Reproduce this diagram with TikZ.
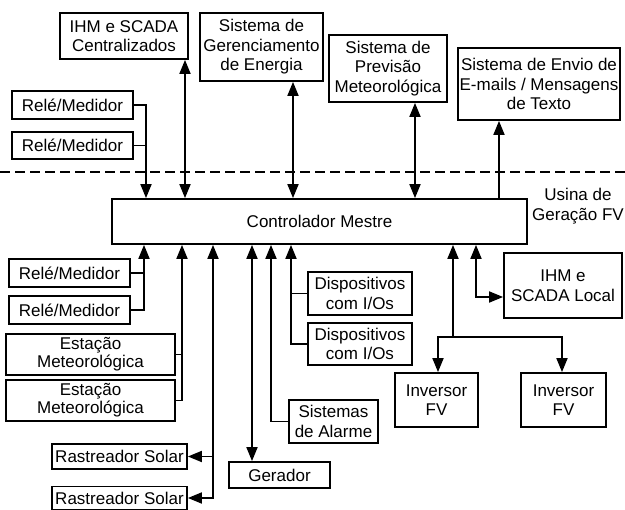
\documentclass[tikz,border=0pt]{standalone}
\usepackage{fontspec}
\setmainfont{Liberation Sans}
\usetikzlibrary{arrows.meta}
\begin{document}
\begin{tikzpicture}[x=1pt,y=-1pt,line width=1.8pt,
  >={Triangle[length=14pt,width=11pt]},
  box/.style={draw,inner sep=0pt,align=center,font=\fontsize{17}{19.5}\selectfont},
  lbl/.style={inner sep=0pt,align=center,font=\fontsize{17}{19.5}\selectfont}]
\useasboundingbox (0,0) rectangle (625,510);
% top boxes
\node[box,minimum width=128pt,minimum height=46pt] (ihmC) at (124,36) {IHM e SCADA\\Centralizados};
\node[box,minimum width=123pt,minimum height=68pt] (sge) at (261.5,47) {Sistema de\\Gerenciamento\\de Energia};
\node[box,minimum width=118pt,minimum height=67pt] (prev) at (388,68.5) {Sistema de\\Previsão\\Meteorológica};
\node[box,minimum width=162pt,minimum height=72pt] (envio) at (539,84) {Sistema de Envio de\\E-mails / Mensagens\\de Texto};
\node[box,minimum width=121pt,minimum height=28pt] (rt1) at (72.5,105) {Relé/Medidor};
\node[box,minimum width=121pt,minimum height=27pt] (rt2) at (72.5,145.5) {Relé/Medidor};
% controller
\node[box,minimum width=415pt,minimum height=45pt] (ctrl) at (319.5,221.5) {Controlador Mestre};
\node[lbl] (usina) at (578,206) {Usina de\\Geração FV};
% bottom boxes
\node[box,minimum width=121pt,minimum height=28pt] (rb1) at (69.5,273) {Relé/Medidor};
\node[box,minimum width=121pt,minimum height=28pt] (rb2) at (69.5,310) {Relé/Medidor};
\node[box,minimum width=169pt,minimum height=41pt,font=\fontsize{17}{18}\selectfont] (est1) at (90.5,354.5) {Estação\\Meteorológica};
\node[box,minimum width=169pt,minimum height=41pt,font=\fontsize{17}{18}\selectfont] (est2) at (90.5,400.5) {Estação\\Meteorológica};
\node[box,minimum width=135pt,minimum height=25pt] (rast1) at (119.5,456.5) {Rastreador Solar};
\node[box,minimum width=135pt,minimum height=23pt] (rast2) at (119.5,498) {Rastreador Solar};
\node[box,minimum width=101pt,minimum height=26pt] (ger) at (279.5,475) {Gerador};
\node[box,minimum width=89pt,minimum height=43pt] (alarm) at (333.5,421.5) {Sistemas\\de Alarme};
\node[box,minimum width=104pt,minimum height=43pt] (disp1) at (360,293.5) {Dispositivos\\com I/Os};
\node[box,minimum width=104pt,minimum height=42pt] (disp2) at (360,344) {Dispositivos\\com I/Os};
\node[box,minimum width=83pt,minimum height=54pt] (inv1) at (436.5,400) {Inversor\\FV};
\node[box,minimum width=85pt,minimum height=54pt] (inv2) at (563.5,400) {Inversor\\FV};
\node[box,minimum width=118pt,minimum height=65pt] (ihmL) at (563,285.5) {IHM e\\SCADA Local};
% coordinates
\coordinate (c146) at (146,0);
\coordinate (c185) at (185,0);
\coordinate (c293) at (293,0);
\coordinate (c415) at (415,0);
\coordinate (c499) at (499,0);
\coordinate (c144) at (144,0);
\coordinate (c182) at (182,0);
\coordinate (c213) at (213,0);
\coordinate (c252) at (252,0);
\coordinate (c271) at (271,0);
\coordinate (c291) at (291,0);
\coordinate (c453) at (453,0);
\coordinate (c438) at (438,0);
\coordinate (c562) at (562,0);
\coordinate (c476) at (476,0);
\coordinate (r337) at (0,337);
\coordinate (r297) at (0,297);
\coordinate (dL) at (0,172);
\coordinate (dR) at (625,172);
% dashed boundary
\draw[dash pattern=on 10pt off 5pt] (dL) -- (dR);
% top connectors
\draw[->] (rt1.east) -| (c146 |- ctrl.north);
\draw (rt2.east) -- (c146 |- rt2.east);
\draw[<->] (c185 |- ihmC.south) -- (c185 |- ctrl.north);
\draw[<->] (c293 |- sge.south) -- (c293 |- ctrl.north);
\draw[<->] (c415 |- prev.south) -- (c415 |- ctrl.north);
\draw[->] (c499 |- ctrl.north) -- (c499 |- envio.south);
% bottom connectors
\draw[->] (rb2.east) -| (c144 |- ctrl.south);
\draw (rb1.east) -- (c144 |- rb1.east);
\draw[->] (est2.east) -| (c182 |- ctrl.south);
\draw (est1.east) -- (c182 |- est1.east);
\draw[<->] (c213 |- ctrl.south) |- (rast2.east);
\draw[->] (c213 |- rast1.east) -- (rast1.east);
\draw[<->] (c252 |- ctrl.south) -- (c252 |- ger.north);
\draw[->] (alarm.west) -| (c271 |- ctrl.south);
\draw[->] (disp2.west) -| (c291 |- ctrl.south);
\draw (disp1.west) -- (c291 |- disp1.west);
\draw[->] (c453 |- r337) -- (c453 |- ctrl.south);
\draw[<->] (c438 |- inv1.north) -- (c438 |- r337) -- (c562 |- r337) -- (c562 |- inv2.north);
\draw[<->] (c476 |- ctrl.south) |- (ihmL.west |- r297);
\end{tikzpicture}
\end{document}
